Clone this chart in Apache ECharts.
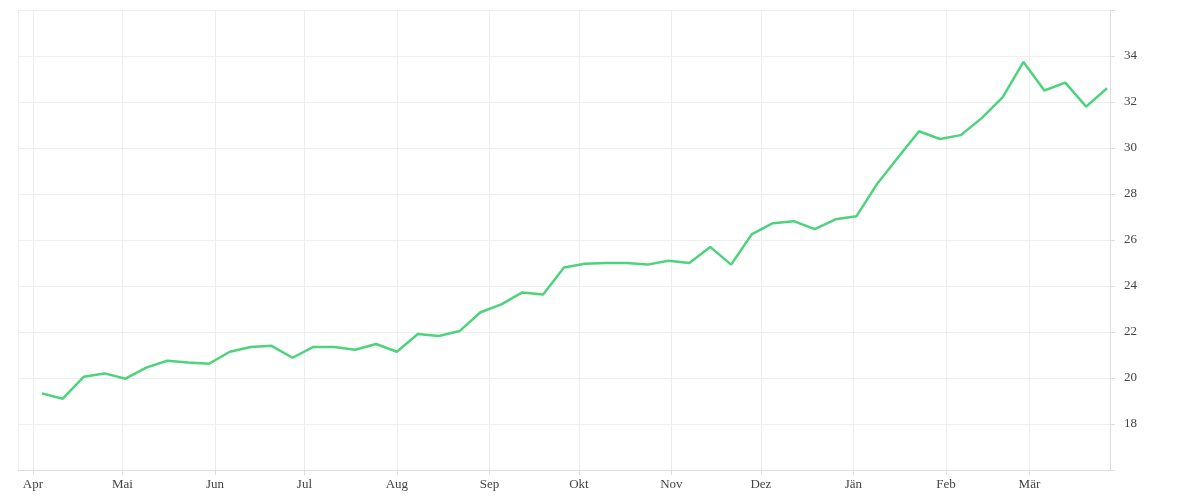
<!DOCTYPE html>
<html>
<head>
<meta charset="utf-8">
<script src="https://cdn.jsdelivr.net/npm/echarts@6/dist/echarts.min.js"></script>
<style>html,body{margin:0;padding:0;background:#fff}#main{width:1200px;height:500px}</style>
</head>
<body>
<div id="main"></div>
<script>
// weekly values, starting Mon 4 Apr 2022
var startDate = '2022-04-04'
var values = [19.33,19.1,20.05,20.2,19.97,20.45,20.75,20.67,20.62,21.14,21.35,21.4,20.88,21.35,21.35,21.23,21.48,21.14,21.91,21.83,22.04,22.86,23.2,23.72,23.63,24.8,24.97,25.0,25.0,24.93,25.1,25.0,25.7,24.93,26.26,26.73,26.82,26.47,26.9,27.03,28.45,29.6,30.73,30.39,30.56,31.3,32.2,33.74,32.5,32.84,31.8,32.6]
var monthNames = ['Jän','Feb','Mär','Apr','Mai','Jun','Jul','Aug','Sep','Okt','Nov','Dez']

var DAY = 86400000
var t0 = new Date(startDate + 'T00:00:00').getTime()
var data = values.map(function(v, i){ return [t0 + i*7*DAY, v] })

var chart = echarts.init(document.getElementById('main'))
var font = 'Liberation Serif'
chart.setOption({
    animation: false,
    grid: {left: 18, right: 90, top: 10, bottom: 30},
    xAxis: {
        type: 'time',
        min: new Date('2022-03-27T00:00:00').getTime(),
        max: new Date('2023-03-28T00:00:00').getTime(),
        minInterval: 28*DAY,
        maxInterval: 31*DAY,
        axisLine: {lineStyle: {color: '#ddd'}},
        axisTick: {show: true, lineStyle: {color: '#ddd'}},
        axisLabel: {
            color: '#444', fontFamily: font, fontSize: 13, margin: 8,
            formatter: function(val){
                return monthNames[new Date(val).getMonth()]
            }
        },
        splitLine: {show: true, lineStyle: {color: '#eee'}}
    },
    yAxis: {
        type: 'value',
        position: 'right',
        min: 16,
        max: 36,
        interval: 2,
        axisLine: {show: true, lineStyle: {color: '#ddd'}},
        axisTick: {show: true, lineStyle: {color: '#ddd'}},
        axisLabel: {
            color: '#444', fontFamily: font, fontSize: 13, margin: 14,
            formatter: function(v){ return (v == 16 || v == 36) ? '' : v }
        },
        splitLine: {show: true, lineStyle: {color: '#eee'}}
    },
    series: [{
        type: 'line',
        data: data,
        showSymbol: false,
        lineStyle: {color: '#4cd47c', width: 2.5},
        itemStyle: {color: '#4cd47c'}
    }]
})
</script>
</body>
</html>
